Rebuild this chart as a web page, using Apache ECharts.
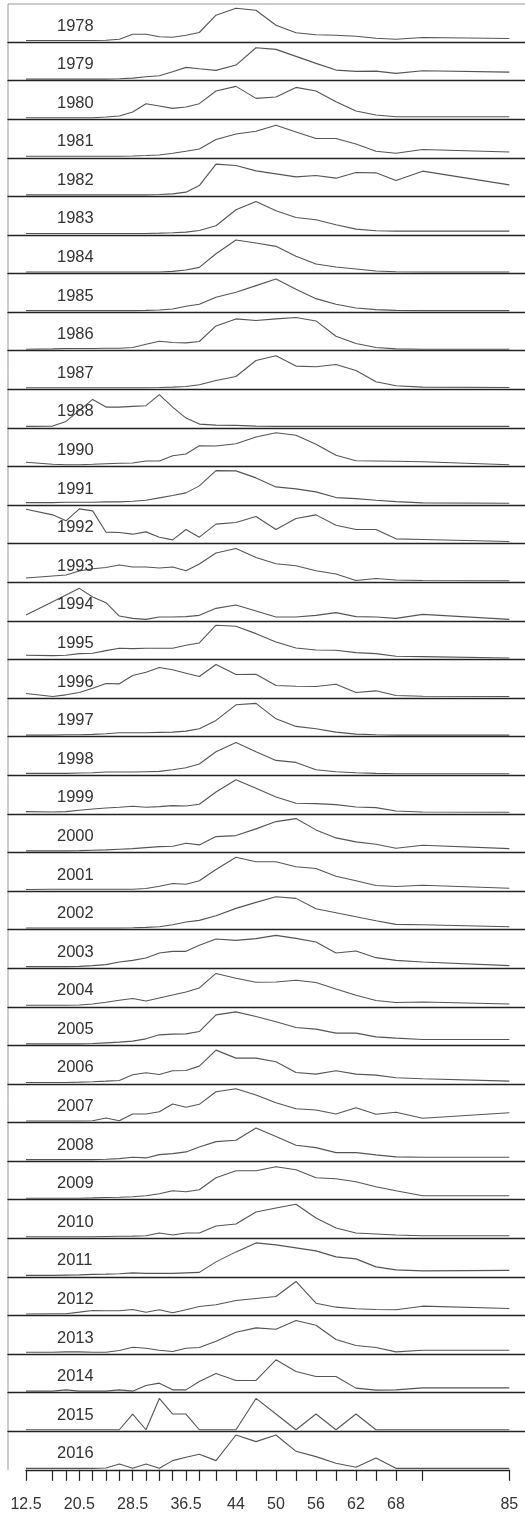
<!DOCTYPE html>
<html>
<head>
<meta charset="utf-8">
<script src="https://cdn.jsdelivr.net/npm/echarts@6/dist/echarts.min.js"></script>
<style>
  html, body { margin: 0; padding: 0; background: #fff; }
  #chart { width: 525px; height: 1516px; }
</style>
</head>
<body>
<div id="chart"></div>
<script>
// Age classes (x positions of the points) and the axis ticks / labels
const ages = [12.5, 16.5, 18.5, 20.5, 22.5, 24.5, 26.5, 28.5, 30.5, 32.5, 34.5, 36.5, 38.5,
              41, 44, 47, 50, 53, 56, 59, 62, 65, 68, 72, 85];
const tickAges = [12.5, 16.5, 18.5, 20.5, 22.5, 24.5, 26.5, 28.5, 30.5, 32.5, 34.5, 36.5, 38.5,
                  41, 44, 47, 50, 53, 56, 59, 62, 65, 68, 72, 85];
const labelAges = [12.5, 20.5, 28.5, 36.5, 44, 50, 56, 62, 68, 85];

const years = ['1978', '1979', '1980', '1981', '1982', '1983', '1984', '1985', '1986', '1987', '1988',
               '1990', '1991', '1992', '1993', '1994', '1995', '1996', '1997', '1998', '1999', '2000',
               '2001', '2002', '2003', '2004', '2005', '2006', '2007', '2008', '2009', '2010', '2011',
               '2012', '2013', '2014', '2015', '2016'];

// Relative frequency by age class, one profile per year
const y1978 = [0, 0, 0, 0, 0, 0.3, 1.3, 6.3, 6.3, 3.7, 3.3, 5.3, 8, 25.3, 32.3, 30.3, 15.3, 7.7, 5.7, 5.3, 4.3, 2.3, 1.3, 3, 2];
const y1979 = [0, 0, 0, 0, 0, 0, 0.3, 1, 2.3, 3.3, 7.3, 11.7, 10.3, 8.7, 14, 31.3, 29.7, 22.7, 15.7, 9, 7.7, 8, 5.7, 8.3, 7];
const y1980 = [0, 0, 0, 0, 0, 0.7, 1.7, 5.7, 14, 11.7, 9.3, 10.7, 14, 26.7, 31.3, 19.3, 20.7, 30.3, 26.7, 16, 6.7, 2.7, 1, 1, 1];
const y1981 = [0, 0, 0, 0, 0, 0, 0, 0.3, 0.7, 1.3, 3, 5, 7.3, 16.7, 22.3, 25, 31, 24.3, 17.7, 17.7, 12.3, 5, 3, 6.7, 4.3];
const y1982 = [0, 0, 0, 0, 0, 0, 0, 0, 0, 0.3, 1, 2.7, 9.3, 30.7, 29.3, 24, 21, 18, 19.3, 16.7, 22.3, 22, 14.3, 23.7, 10];
const y1983 = [0, 0, 0, 0, 0, 0, 0, 0, 0, 0.3, 0.7, 1.3, 3, 7.7, 23.7, 32, 22.7, 16, 13.7, 8.7, 4.3, 2.7, 2.3, 2.3, 2.3];
const y1984 = [0, 0, 0, 0, 0, 0, 0, 0, 0, 0, 0.7, 2, 4.7, 18.3, 32, 29, 25.7, 15.7, 8, 5, 3, 1, 0.3, 0, 0];
const y1985 = [0, 0, 0, 0, 0, 0, 0, 0, 0.3, 0.7, 1.7, 4.3, 6.3, 13.3, 18.3, 25, 31.7, 21.3, 12, 6.3, 2.7, 1, 0.3, 0, 0];
const y1986 = [0, 0.3, 0.7, 0.7, 0.7, 1, 1, 1.7, 5, 8, 6.7, 6.3, 7.7, 23.3, 30.3, 28.7, 30.3, 31.7, 28.3, 13, 5.7, 1.7, 0.3, 0, 0];
const y1987 = [0, 0, 0, 0, 0, 0, 0, 0, 0, 0.3, 0.7, 1.3, 3, 7.3, 11.3, 27.3, 32, 21.7, 21, 23.3, 17.3, 6, 2, 0.7, 0.3];
const y1988 = [0, 0.3, 5, 16, 27, 19.3, 19.3, 20, 20.7, 31.7, 19.3, 8.3, 2.3, 1.3, 1, 0.3, 0, 0, 0, 0, 0, 0, 0, 0, 0];
const y1990 = [2.7, 0.7, 0.3, 0.3, 0.7, 1.3, 1.7, 2, 4, 4, 9.3, 11, 19.3, 19, 21.3, 28, 32.3, 29.7, 20.7, 9.7, 4.3, 4, 3.7, 3.3, 0.3];
const y1991 = [1, 1, 1.3, 1.3, 1.3, 1.7, 1.7, 2.3, 3.3, 5.7, 8, 10.7, 17.7, 33, 32.7, 25.7, 16.7, 14.7, 11.7, 6, 5, 3.3, 2, 0.7, 0.3];
const y1992 = [33, 27.3, 21.3, 33.3, 31.3, 10, 9.7, 8, 10.3, 5, 2.3, 12.7, 5, 18, 19.7, 25.7, 12.7, 23.7, 27.3, 17, 12.7, 12.7, 3.3, 2.7, 0.7];
const y1993 = [2.7, 4.7, 5.7, 9.7, 12, 13.3, 15.7, 13.7, 13.7, 12.7, 13.7, 10, 16.7, 27.7, 32.3, 23.3, 17, 15, 10, 6.7, 0.3, 2.3, 0.7, 0.3, 0];
const y1994 = [4.3, 17.7, 24.3, 31, 22.3, 16.7, 3.3, 1, 0, 2.3, 2.3, 2.7, 4, 11, 14.3, 8.3, 2.3, 2.3, 4, 6.7, 2.7, 2.3, 1, 5, 0];
const y1995 = [2.7, 2.3, 2.7, 4.3, 4.7, 7.3, 9.7, 9.3, 9.7, 9.7, 9.7, 12.7, 15, 32.7, 31.7, 24.3, 16, 10, 8, 7.7, 5.3, 4.3, 1.7, 1.3, 0];
const y1996 = [3, 0, 1.7, 4, 8.3, 13, 12.7, 21, 24.3, 29, 26.7, 23.3, 20, 32, 22, 22.3, 11, 10.3, 10, 12.3, 4, 5.7, 1, 0.3, 0];
const y1997 = [0, 0, 0.3, 0.3, 0.7, 1.3, 2.3, 2.3, 2.3, 2.7, 3, 4, 6.3, 14.7, 30.3, 31.7, 16.3, 8.7, 6.3, 3, 1, 0.3, 0, 0, 0];
const y1998 = [0.3, 0.3, 0.3, 0.7, 1, 1.7, 1.7, 1.7, 2, 2.3, 4, 6, 9.7, 22, 31.3, 22, 13.3, 11.3, 4, 2, 1, 0.3, 0, 0, 0];
const y1999 = [0.7, 0.3, 0.7, 2, 3.3, 4.3, 5, 6, 5, 5.7, 6.7, 6.3, 8, 20.3, 32.5, 24, 15.3, 9, 8.7, 7.7, 5.3, 4.7, 1.3, 0.3, 0];
const y2000 = [0, 0, 0, 0.3, 0.7, 1, 1.7, 2.3, 3.3, 4.3, 4.7, 7.7, 6, 14.3, 15.3, 22, 29.3, 32.3, 21, 13, 9, 6.7, 2.7, 5.7, 2.3];
const y2001 = [0, 0.3, 0.3, 0.3, 0.3, 0.3, 0.3, 0.3, 1, 3.3, 6, 5.3, 8.7, 20, 32.3, 27.7, 27.7, 22.7, 21, 13.3, 8.7, 4, 3, 4.3, 1.3];
const y2002 = [0, 0, 0, 0, 0, 0, 0, 0.3, 0.7, 1.3, 3.3, 6, 7.7, 12.3, 19.7, 25.7, 31.3, 29.7, 19.3, 15.3, 11.3, 7.3, 3.7, 3.3, 1.3];
const y2003 = [0, 0, 0, 0.3, 1, 2, 4.7, 6.3, 8.7, 13.7, 15.3, 15.3, 21.3, 27.7, 26.3, 28, 31.3, 28.3, 24.7, 13.7, 15.7, 9, 6.3, 4.7, 1];
const y2004 = [0, 0, 0, 0.3, 1.3, 3, 5, 6.7, 4.3, 7.3, 10.3, 13.3, 17.3, 31.8, 27, 23, 23.3, 25, 22.7, 16.3, 10, 4.7, 2.7, 3.3, 1.3];
const y2005 = [0, 0, 0, 0, 0.3, 1, 1.7, 2.7, 5, 9, 9.7, 10, 12.3, 29, 32, 27.3, 22, 16.3, 14.7, 10.7, 10.7, 7, 5.7, 4.3, 4.3];
const y2006 = [0, 0, 0, 0.3, 0.7, 1.3, 2, 7.7, 9.7, 8, 11.7, 12, 16.3, 32.3, 24.3, 24.3, 20.7, 10, 8.3, 11.7, 8.3, 7.3, 4.7, 3.7, 1.3];
const y2007 = [0, 0, 0, 0, 0.3, 3, 0.3, 7, 7, 9.3, 17, 13.7, 16.7, 29.3, 32.3, 26, 18.3, 12.3, 11, 7, 13.3, 6.7, 8.7, 2.7, 8.3];
const y2008 = [0, 0, 0, 0, 0, 0.3, 1, 2.3, 1.7, 5, 6, 7.7, 12.7, 18, 19.3, 31.7, 23, 14.3, 12, 7, 7, 4.7, 2.7, 2.3, 2.3];
const y2009 = [0, 0, 0, 0, 0.3, 0.7, 1, 1.5, 2.5, 4.5, 7.5, 6.5, 8.5, 20.5, 27.5, 27.5, 31.5, 28.5, 20.5, 19.5, 16.5, 11.5, 7.5, 2.5, 2.5];
const y2010 = [0, 0, 0, 0, 0, 0.3, 0.5, 0.7, 1, 3.8, 1.8, 3.8, 3.8, 10.8, 12.8, 24.8, 28.8, 32.5, 18.8, 8.8, 3.8, 2.8, 1.8, 1, 1];
const y2011 = [0, 0, 0.3, 0.5, 1, 1.3, 1.7, 2.5, 2, 2, 2, 2.5, 3, 13.5, 23.5, 32.5, 30.5, 27.5, 24.5, 18.5, 16.5, 8.5, 5.5, 4.5, 5];
const y2012 = [0, 0.2, 0.2, 1.8, 3.5, 3.2, 3.2, 4.5, 1.8, 4.2, 1.2, 4.2, 7.5, 9.2, 13.5, 15.5, 17.5, 32.5, 10.8, 6.8, 5.2, 4.5, 4.2, 7.8, 5.5];
const y2013 = [0.3, 0.3, 0.7, 0.7, 0.3, 0.3, 2, 5.3, 4.3, 2.3, 1, 4.3, 5, 11.3, 20.3, 24.7, 23.3, 32, 27.3, 13, 7, 5, 0.7, 2.3, 2.3];
const y2014 = [0, 0, 1.3, 0, 0, 0, 1.3, 0, 5.7, 8, 1.3, 1.3, 9.7, 17.7, 10.7, 10.7, 31.3, 19.7, 14.7, 14.7, 3, 1, 1.3, 3.3, 3.3];
const y2015 = [0, 0, 0, 0, 0, 0, 0, 15.7, 0, 31.3, 15.7, 15.7, 0, 0, 0, 31.3, 15.7, 0, 15.7, 0, 15.7, 0, 0, 0, 0];
const y2016 = [0, 0, 0, 0, 0, 0.3, 4.3, 0, 4.3, 0, 7.7, 11, 14, 7.7, 33.3, 26.7, 33.3, 17, 11.7, 5, 1, 10.3, 0, 0, 0];

const profiles = [y1978, y1979, y1980, y1981, y1982, y1983, y1984, y1985, y1986, y1987, y1988,
                  y1990, y1991, y1992, y1993, y1994, y1995, y1996, y1997, y1998, y1999, y2000,
                  y2001, y2002, y2003, y2004, y2005, y2006, y2007, y2008, y2009, y2010, y2011,
                  y2012, y2013, y2014, y2015, y2016];

// Layout of the stacked panels
const W = 525;
const FRAME_X = 8;
const FRAME_TOP = 4;
const FIRST_BASE = 42;
const PANEL_H = 38.59;
const AX_L = 26, AX_R = 509.3;            // pixel span of ages 12.5 .. 85
const LIFT = 1.5;                          // zero sits just above each panel's rule
const FONT = "'Liberation Sans', Arial, Helvetica, sans-serif";

const pxPerUnit = (AX_R - AX_L) / (85 - 12.5);
const wideMin = 12.5 - (AX_L - FRAME_X) / pxPerUnit;
const wideMax = 85 + (W - AX_R) / pxPerUnit;

const n = years.length;
const grids = [], xAxes = [], yAxes = [], series = [], texts = [];

for (let i = 0; i < n; i++) {
  const base = FIRST_BASE + i * PANEL_H;
  const last = i === n - 1;
  grids.push({
    left: last ? AX_L : FRAME_X,
    width: last ? AX_R - AX_L : W - FRAME_X,
    top: base - PANEL_H,
    height: PANEL_H
  });
  xAxes.push({
    type: 'value',
    gridIndex: i,
    min: last ? 12.5 : wideMin,
    max: last ? 85 : wideMax,
    splitLine: { show: false },
    axisLine: { show: true, onZero: false, lineStyle: { color: '#222', width: 1.4 } },
    axisTick: last
      ? { show: true, customValues: tickAges, length: 11, lineStyle: { color: '#222', width: 1.2 } }
      : { show: false },
    axisLabel: last
      ? { show: true, customValues: labelAges, margin: 27, fontSize: 16, color: '#333',
          fontFamily: FONT, formatter: v => String(v) }
      : { show: false }
  });
  yAxes.push({
    type: 'value',
    gridIndex: i,
    min: -LIFT,
    max: PANEL_H - LIFT,
    show: false
  });
  series.push({
    type: 'line',
    name: years[i],
    xAxisIndex: i,
    yAxisIndex: i,
    data: ages.map((a, k) => [a, profiles[i][k]]),
    symbol: 'none',
    clip: false,
    silent: true,
    lineStyle: { color: '#555', width: 1.1 }
  });
  texts.push({
    type: 'text',
    x: 57,
    y: base - 16,
    z: 10,
    style: { text: years[i], fontSize: 16.5, fontFamily: FONT, fill: '#333', verticalAlign: 'middle' }
  });
}

const chart = echarts.init(document.getElementById('chart'), null, { renderer: 'canvas' });
chart.setOption({
  animation: false,
  backgroundColor: '#fff',
  textStyle: { fontFamily: FONT },
  grid: grids,
  xAxis: xAxes,
  yAxis: yAxes,
  series: series,
  graphic: [
    { type: 'line', shape: { x1: FRAME_X, y1: FRAME_TOP, x2: W, y2: FRAME_TOP },
      style: { stroke: '#999', lineWidth: 1 } },
    { type: 'line', shape: { x1: FRAME_X, y1: FRAME_TOP, x2: FRAME_X, y2: FIRST_BASE + (n - 1) * PANEL_H },
      style: { stroke: '#999', lineWidth: 1 } }
  ].concat(texts)
});
</script>
</body>
</html>
